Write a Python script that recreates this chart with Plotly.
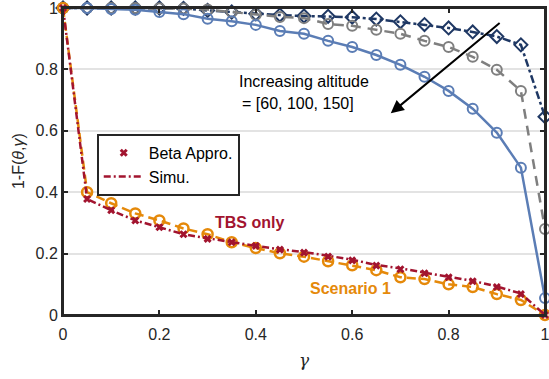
import plotly.graph_objects as go

gamma = [0, 0.05, 0.1, 0.15, 0.2, 0.25, 0.3, 0.35, 0.4, 0.45, 0.5,
         0.55, 0.6, 0.65, 0.7, 0.75, 0.8, 0.85, 0.9, 0.95, 1.0]

alt60 = [1.0, 1.0, 1.0, 1.0, 1.0, 0.999, 0.992, 0.987, 0.981, 0.977, 0.974,
         0.973, 0.97, 0.964, 0.955, 0.946, 0.935, 0.922, 0.907, 0.88, 0.646]
alt100 = [1.0, 1.0, 1.0, 1.0, 0.999, 0.998, 0.995, 0.987, 0.978, 0.971, 0.967,
          0.948, 0.942, 0.929, 0.916, 0.893, 0.873, 0.841, 0.799, 0.73, 0.28]
alt150 = [1.0, 1.0, 0.997, 0.994, 0.987, 0.98, 0.965, 0.957, 0.945, 0.925, 0.916,
          0.893, 0.873, 0.847, 0.815, 0.776, 0.73, 0.672, 0.594, 0.48, 0.055]

tbs_simu = [1.0, 0.378, 0.341, 0.308, 0.286, 0.263, 0.25, 0.237, 0.225, 0.214, 0.205,
            0.193, 0.18, 0.163, 0.152, 0.138, 0.125, 0.111, 0.093, 0.07, 0.0]
tbs_beta = [1.0, 0.378, 0.341, 0.308, 0.286, 0.263, 0.248, 0.237, 0.225, 0.213, 0.203,
            0.19, 0.178, 0.161, 0.149, 0.136, 0.123, 0.11, 0.091, 0.068, 0.0]
scenario1 = [1.0, 0.40, 0.364, 0.331, 0.308, 0.282, 0.263, 0.237, 0.218, 0.201, 0.19,
             0.175, 0.162, 0.146, 0.123, 0.117, 0.10, 0.091, 0.068, 0.049, 0.0]

x_ticks = [0, 0.2, 0.4, 0.6, 0.8, 1]
x_tick_labels = ["0", "0.2", "0.4", "0.6", "0.8", "1"]
y_ticks = [0, 0.2, 0.4, 0.6, 0.8, 1]
y_tick_labels = ["0", "0.2", "0.4", "0.6", "0.8", "1"]

NAVY = "#1f3864"
GRAY = "#7f7f7f"
BLUE = "#5b7db5"
CRIMSON = "#a2142f"
ORANGE = "#e5890a"
TXT = "#262626"
FONT = "Liberation Sans, Arial, sans-serif"

fig = go.Figure()

fig.add_trace(go.Scatter(
    x=gamma, y=alt60, mode="lines+markers", showlegend=False, cliponaxis=False,
    line=dict(color=NAVY, width=2.5, dash="8px,3px,3px,3px"),
    marker=dict(symbol="diamond-open", size=10, color=NAVY, line=dict(width=2, color=NAVY))))
fig.add_trace(go.Scatter(
    x=gamma, y=alt100, mode="lines+markers", showlegend=False, cliponaxis=False,
    line=dict(color=GRAY, width=2.5, dash="10px,7px"),
    marker=dict(symbol="circle-open", size=10, color=GRAY, line=dict(width=2, color=GRAY))))
fig.add_trace(go.Scatter(
    x=gamma, y=alt150, mode="lines+markers", showlegend=False, cliponaxis=False,
    line=dict(color=BLUE, width=2.5),
    marker=dict(symbol="circle-open", size=10, color=BLUE, line=dict(width=2, color=BLUE))))
fig.add_trace(go.Scatter(
    x=gamma, y=scenario1, mode="lines+markers", showlegend=False, cliponaxis=False,
    line=dict(color=ORANGE, width=2.5, dash="9px,5px"),
    marker=dict(symbol="circle-open", size=10, color=ORANGE, line=dict(width=2.5, color=ORANGE))))
fig.add_trace(go.Scatter(
    x=gamma, y=tbs_beta, mode="markers", name="Beta Appro.", legendrank=1, cliponaxis=False,
    marker=dict(symbol="x-thin-open", size=6, color=CRIMSON, line=dict(width=3, color=CRIMSON))))
fig.add_trace(go.Scatter(
    x=gamma, y=tbs_simu, mode="lines", name="Simu.", legendrank=2, cliponaxis=False,
    line=dict(color=CRIMSON, width=2.5, dash="7px,3px,2px,3px")))

fig.add_annotation(x=0.68, y=0.657, ax=0.909, ay=0.955, xref="x", yref="y",
                   axref="x", ayref="y", text="", showarrow=True,
                   arrowhead=2, arrowsize=1.3, arrowwidth=2, arrowcolor="black")
fig.add_annotation(x=0.5, y=0.761, xref="x", yref="y", text="Increasing altitude",
                   showarrow=False, font=dict(size=16, color="black", family=FONT))
fig.add_annotation(x=0.488, y=0.689, xref="x", yref="y", text="= [60, 100, 150]",
                   showarrow=False, font=dict(size=16, color="black", family=FONT))
fig.add_annotation(x=0.386, y=0.301, xref="x", yref="y", text="<b>TBS only</b>",
                   showarrow=False, font=dict(size=16, color=CRIMSON, family=FONT))
fig.add_annotation(x=0.597, y=0.087, xref="x", yref="y", text="<b>Scenario 1</b>",
                   showarrow=False, font=dict(size=16, color=ORANGE, family=FONT))

# y-axis title
fig.add_annotation(x=-0.091, y=0.502, xref="paper", yref="paper",
                   text="1-F(<i>θ</i>,<i>γ</i>)", textangle=-90, showarrow=False,
                   xanchor="center", yanchor="middle",
                   font=dict(size=16, color=TXT, family=FONT))

# axes frame
fig.add_shape(type="rect", xref="paper", yref="paper", x0=0, y0=0, x1=1, y1=1,
              line=dict(color=TXT, width=2), layer="above")

axis_common = dict(
    showline=True, linecolor=TXT, linewidth=2, mirror="allticks",
    ticks="inside", ticklen=5, tickwidth=2, tickcolor=TXT,
    ticklabeloverflow="allow", automargin=False,
    tickfont=dict(size=16, color=TXT, family=FONT), zeroline=False)

fig.update_xaxes(range=[0, 1], tickvals=x_ticks, ticktext=x_tick_labels,
                 showgrid=False, ticklabelstandoff=4,
                 title=dict(text="<i>γ</i>", font=dict(size=17, color=TXT, family="DejaVu Serif"),
                            standoff=12),
                 **axis_common)
fig.update_yaxes(range=[0, 1], tickvals=y_ticks, ticktext=y_tick_labels,
                 showgrid=True, gridcolor="#e3e3e3", gridwidth=2,
                 **axis_common)

fig.update_layout(
    width=549, height=379,
    margin=dict(l=63, r=4, t=8, b=64),
    plot_bgcolor="white", paper_bgcolor="white",
    font=dict(family=FONT, color=TXT),
    legend=dict(x=0.07, y=0.59, xanchor="left", yanchor="top",
                bgcolor="white", bordercolor="#262626", borderwidth=2,
                font=dict(size=16, color="black", family=FONT),
                tracegroupgap=0, itemwidth=40),
)

fig.write_html("out.html")
